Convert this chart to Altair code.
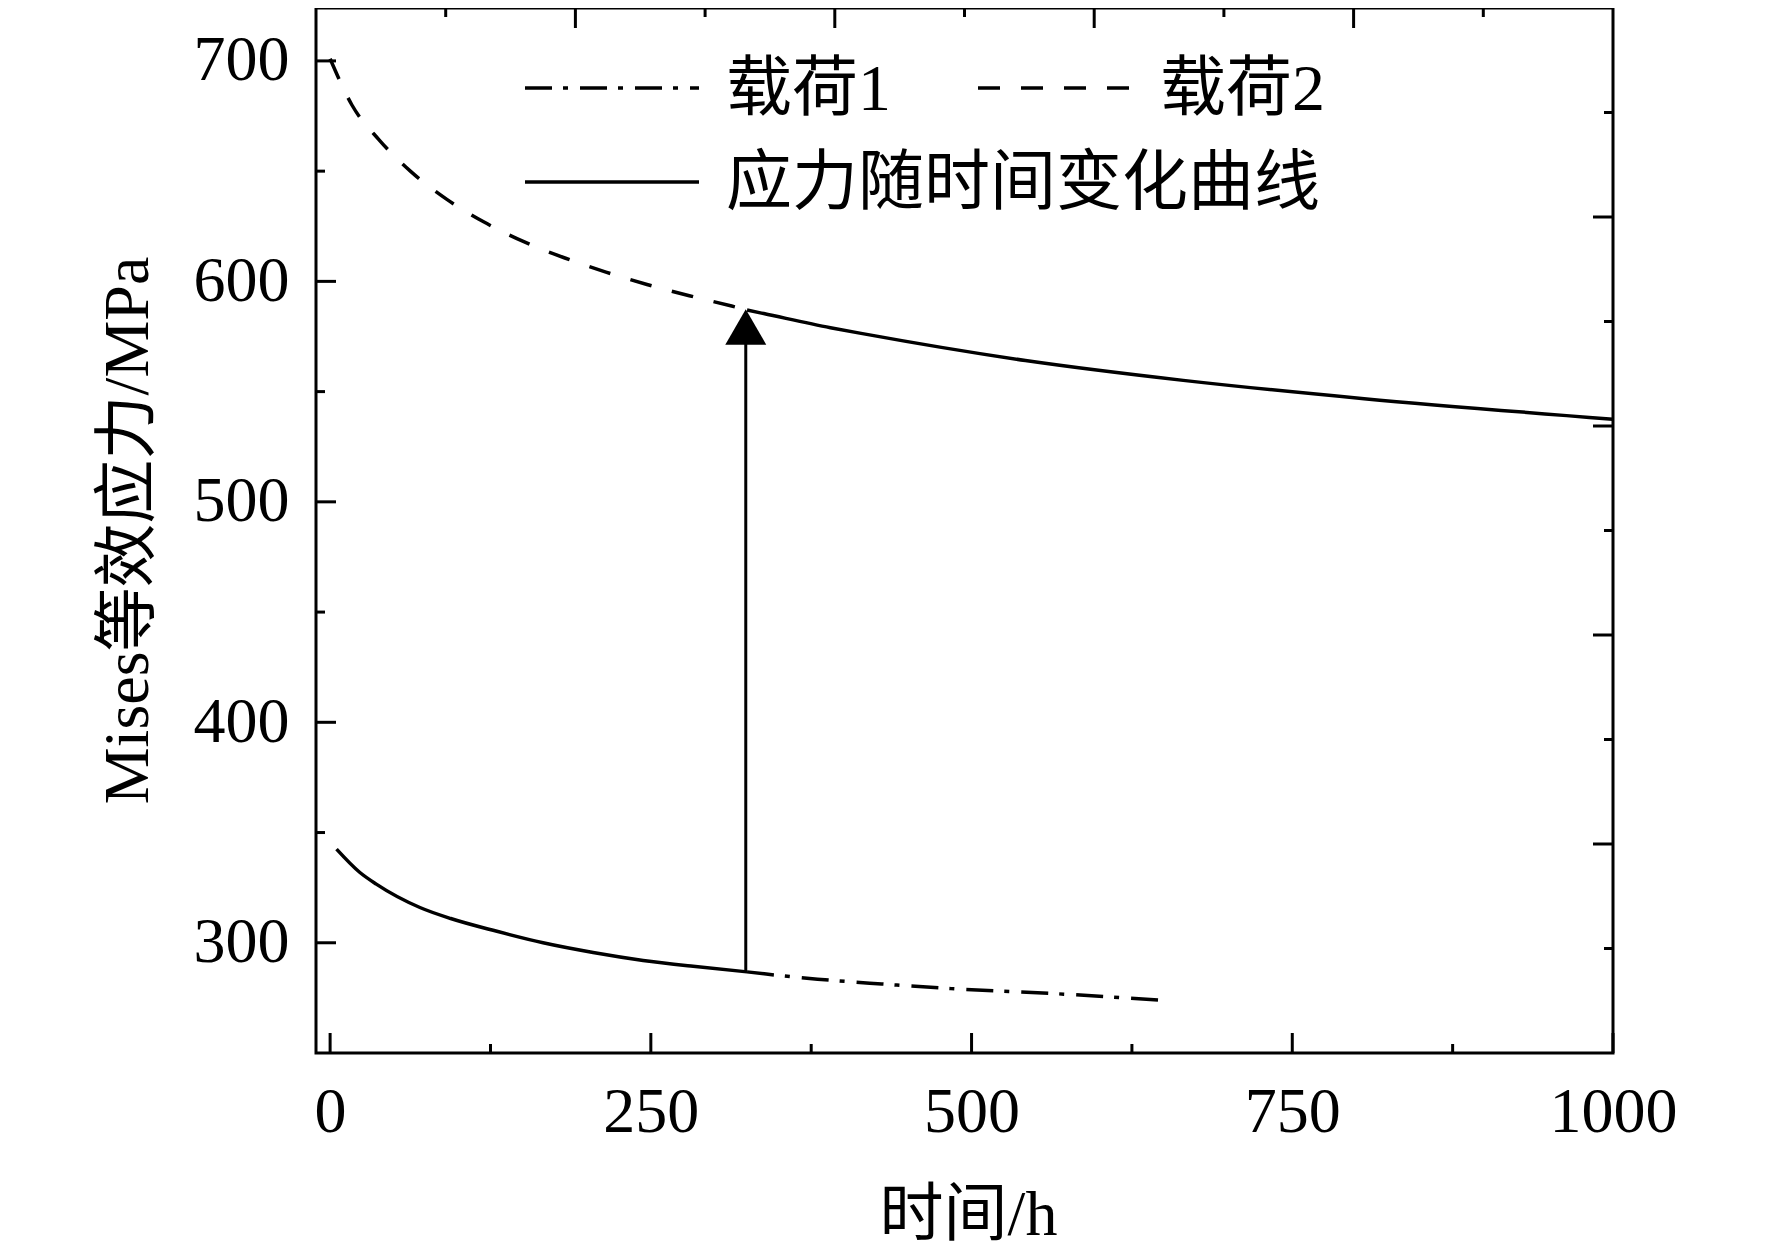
import altair as alt
import pandas as pd

# ---------------- data ----------------
# 载荷1: solid part before the load change, dash-dot continuation after it
load1_solid_t = [5, 23, 36, 70, 94, 130, 166, 205, 244, 283, 325]
load1_solid_v = [342.5, 332, 326.6, 316, 311, 305.2, 300, 295.6, 292, 289.3, 286.8]
load1_dd_t = [325, 340, 380, 430, 484, 572, 646]
load1_dd_v = [286.8, 285.8, 283.5, 281.3, 279.2, 276.7, 274]

# 载荷2: dashed part before the load change, solid continuation after it
load2_dash_t = [0, 17, 38, 63, 91, 120, 151, 183, 215, 247, 280, 313, 325]
load2_dash_v = [701, 680, 664.3, 649.8, 637.2, 626.9, 618, 610.6, 604.2, 598.6, 593.5, 588.8, 587.0]
load2_solid_t = [325, 338, 390, 415, 542, 665, 806, 1000]
load2_solid_v = [587.0, 585.4, 579.0, 576.3, 564.1, 555.1, 546.8, 537.5]

# arrow marking the load switch
arrow_t = [324]
arrow_from = [286.8]
arrow_to = [572]
arrow_head = [579.3]

# axis ticks
x_major = [0, 250, 500, 750, 1000]
x_minor = [125, 375, 625, 875]
y_major = [300, 400, 500, 600, 700]
y_minor = [350, 450, 550, 650]
frac_major = [0.2, 0.4, 0.6, 0.8]
frac_minor = [0.1, 0.3, 0.5, 0.7, 0.9]

legend_labels = ["载荷1", "载荷2", "应力随时间变化曲线"]
x_title = "时间/h"
y_title = "Mises等效应力/MPa"

# ---------------- styling ----------------
W, H = 1297, 1045
FONT = "Liberation Serif, Noto Sans CJK SC"
FS = 64
LFS = 66
LW = 3.5
DASH = [22, 21]
DASHDOT = [27, 11, 5, 12]
MAJ, MIN = 20, 9

xscale = alt.Scale(domain=[-11, 1000], nice=False, zero=False)
yscale = alt.Scale(domain=[250, 724], nice=False, zero=False)
fscale = alt.Scale(domain=[0, 1], nice=False, zero=False)

xaxis = alt.Axis(values=x_major, format="d", title=x_title, ticks=False, domain=False, grid=False,
                 labelFont=FONT, labelFontSize=FS, labelColor="black", labelPadding=27,
                 labelFlush=False, labelOverlap=False,
                 titleFont=FONT, titleFontSize=FS, titleFontWeight="normal", titleColor="black",
                 titleX=652, titleY=181, titleBaseline="alphabetic", titleAlign="center")
yaxis = alt.Axis(values=y_major, format="d", title=y_title, ticks=False, domain=False, grid=False,
                 labelFont=FONT, labelFontSize=FS, labelColor="black", labelPadding=27,
                 labelFlush=False, labelOverlap=False,
                 titleFont=FONT, titleFontSize=FS, titleFontWeight="normal", titleColor="black",
                 titleAngle=270, titleX=-169, titleY=522, titleBaseline="alphabetic",
                 titleAlign="center")


def X(f):
    return alt.X(f, type="quantitative", scale=xscale, axis=xaxis)


def Y(f):
    return alt.Y(f, type="quantitative", scale=yscale, axis=yaxis)


def curve(t, v, dash=None):
    df = pd.DataFrame({"t": t, "v": v})
    kw = dict(color="black", strokeWidth=LW, interpolate="monotone")
    if dash:
        kw["strokeDash"] = dash
    return alt.Chart(df).mark_line(**kw).encode(x=X("t"), y=Y("v"))


curves = [
    curve(load1_solid_t, load1_solid_v),
    curve(load1_dd_t, load1_dd_v, DASHDOT),
    curve(load2_dash_t, load2_dash_v, DASH),
    curve(load2_solid_t, load2_solid_v),
]

arrow_df = pd.DataFrame({"t": arrow_t, "a": arrow_from, "b": arrow_to, "h": arrow_head})
arrow_line = alt.Chart(arrow_df).mark_rule(color="black", strokeWidth=3).encode(
    x=X("t"), y=Y("a"), y2=alt.Y2("b"))
arrow_tip = alt.Chart(arrow_df).mark_point(shape="triangle-up", size=1681, filled=True,
                                           color="black", opacity=1, strokeWidth=0).encode(
    x=X("t"), y=Y("h"))

# inward ticks on the data scales (bottom / left)
bt_maj = alt.Chart(pd.DataFrame({"t": x_major})).mark_rule(color="black", strokeWidth=3).encode(
    x=X("t"), y=alt.value(H), y2=alt.value(H - MAJ))
bt_min = alt.Chart(pd.DataFrame({"t": x_minor})).mark_rule(color="black", strokeWidth=3).encode(
    x=X("t"), y=alt.value(H), y2=alt.value(H - MIN))
lt_maj = alt.Chart(pd.DataFrame({"v": y_major})).mark_rule(color="black", strokeWidth=3).encode(
    y=Y("v"), x=alt.value(0), x2=alt.value(MAJ))
lt_min = alt.Chart(pd.DataFrame({"v": y_minor})).mark_rule(color="black", strokeWidth=3).encode(
    y=Y("v"), x=alt.value(0), x2=alt.value(MIN))

# legend
leg_rows = []
for lab, xs, xe, ly, tx, dash in [
    (legend_labels[0], 209, 383, 80, 410, DASHDOT),
    (legend_labels[1], 662, 815, 80, 844, DASH),
    (legend_labels[2], 209, 383, 174, 410, None),
]:
    d = pd.DataFrame({"label": [lab]})
    kw = dict(color="black", strokeWidth=LW)
    if dash:
        kw["strokeDash"] = dash
    leg_rows.append(alt.Chart(d).mark_rule(**kw).encode(
        x=alt.value(xs), x2=alt.value(xe), y=alt.value(ly)))
    leg_rows.append(alt.Chart(d).mark_text(align="left", baseline="middle", font=FONT,
                                           fontSize=LFS, color="black").encode(
        x=alt.value(tx), y=alt.value(ly + 2), text="label:N"))

main = alt.layer(bt_maj, bt_min, lt_maj, lt_min, *curves, arrow_line, arrow_tip, *leg_rows)

# second (unlabelled) frame layer: top and right ticks
tp_maj = alt.Chart(pd.DataFrame({"f": frac_major})).mark_rule(color="black", strokeWidth=3).encode(
    x=alt.X("f:Q", scale=fscale, axis=None), y=alt.value(0), y2=alt.value(MAJ))
tp_min = alt.Chart(pd.DataFrame({"f": frac_minor})).mark_rule(color="black", strokeWidth=3).encode(
    x=alt.X("f:Q", scale=fscale, axis=None), y=alt.value(0), y2=alt.value(MIN))
rt_maj = alt.Chart(pd.DataFrame({"f": frac_major})).mark_rule(color="black", strokeWidth=3).encode(
    y=alt.Y("f:Q", scale=fscale, axis=None), x=alt.value(W), x2=alt.value(W - MAJ))
rt_min = alt.Chart(pd.DataFrame({"f": frac_minor})).mark_rule(color="black", strokeWidth=3).encode(
    y=alt.Y("f:Q", scale=fscale, axis=None), x=alt.value(W), x2=alt.value(W - MIN))
frame = alt.layer(tp_maj, tp_min, rt_maj, rt_min)

chart = alt.layer(main, frame).resolve_scale(x="independent", y="independent").properties(
    width=W, height=H,
    autosize=alt.AutoSizeParams(type="none"),
    padding={"left": 308, "top": 0, "right": 151, "bottom": 194},
    background="white",
).configure_view(stroke="black", strokeWidth=3)

chart.save("out.html", embed_options={"renderer": "svg", "actions": False})
